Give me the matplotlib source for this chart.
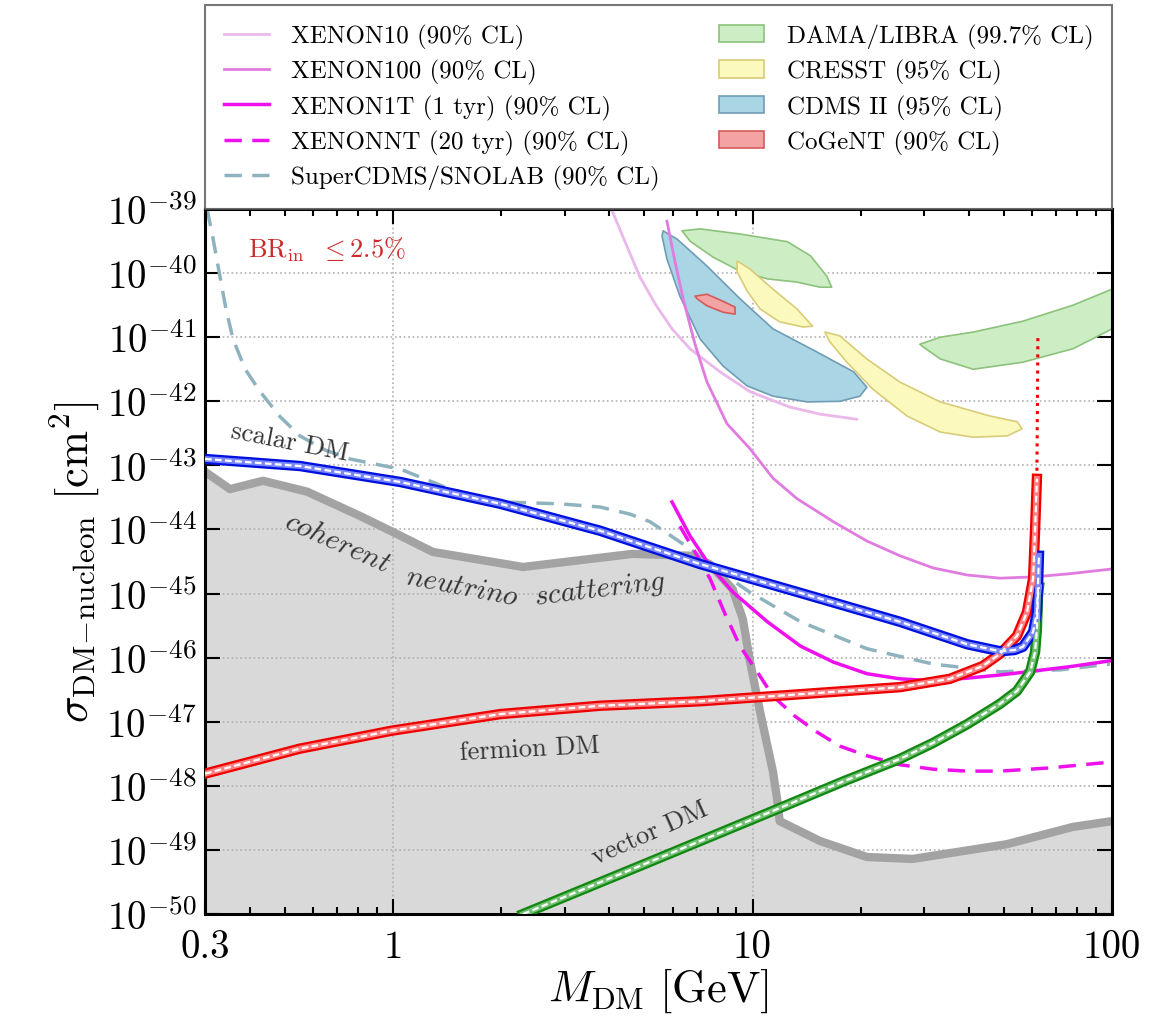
import numpy as np
import matplotlib
matplotlib.use("Agg")
import matplotlib.pyplot as plt
from matplotlib.patches import Polygon, Patch
from matplotlib.lines import Line2D
from matplotlib.ticker import FixedLocator, FixedFormatter, FuncFormatter, NullFormatter, LogLocator

plt.rcParams['font.family'] = ['cmr10', 'DejaVu Serif']
plt.rcParams['mathtext.fontset'] = 'cm'
plt.rcParams['axes.unicode_minus'] = False

# masses in GeV, cross sections as log10(sigma / cm^2)
nu_floor_m = [0.30, 0.352, 0.435, 0.577, 0.81, 1.0, 1.29, 2.30, 4.65, 6.7, 7.6, 8.8, 9.4, 9.85,
              10.5, 11.4, 11.7, 11.9, 15.4, 20.8, 27.9, 51.0, 77.9, 100.0]
nu_floor_s = [-43.10, -43.37, -43.24, -43.41, -43.79, -44.04, -44.35, -44.585, -44.38, -44.41, -44.54,
              -44.93, -45.40, -46.07, -46.85, -47.78, -48.20, -48.55, -48.86, -49.11, -49.14, -48.91,
              -48.64, -48.55]

scalar_m = [0.30, 0.551, 1.05, 1.99, 3.77, 7.15, 13.6, 25.7, 39.5, 48.8, 53.6, 56.5, 60.3, 61.8,
            62.2, 62.6]
scalar_s = [-42.90, -43.01, -43.26, -43.60, -44.02, -44.54, -44.99, -45.44, -45.79, -45.90, -45.88,
            -45.83, -45.60, -45.29, -44.93, -44.41]

fermion_m = [0.30, 0.55, 0.99, 1.99, 3.77, 7.15, 13.6, 25.7, 35.4, 43.7, 48.8, 54.4, 58.0, 60.3,
             61.1, 61.8]
fermion_s = [-47.81, -47.42, -47.14, -46.88, -46.75, -46.68, -46.57, -46.46, -46.33, -46.13, -45.94,
             -45.66, -45.29, -44.77, -43.99, -43.21]
fermion_top_m = [61.8, 62.2]
fermion_top_s = [-43.21, -40.95]

vector_m = [2.30, 4.86, 11.4, 17.9, 25.7, 31.8, 39.5, 48.8, 54.4, 59.2, 61.1, 61.8, 62.2, 62.6]
vector_s = [-50.0, -49.25, -48.39, -47.93, -47.58, -47.33, -47.04, -46.72, -46.52, -46.22, -45.91,
            -45.55, -45.04, -44.90]

xenon10_m = [4.07, 4.45, 4.86, 5.36, 5.97, 6.70, 8.12, 9.84, 12.7, 15.4, 19.5]
xenon10_s = [-39.03, -39.55, -40.06, -40.48, -40.87, -41.18, -41.54, -41.85, -42.09, -42.20, -42.28]

xenon100_m = [5.78, 6.08, 6.41, 6.92, 7.47, 8.49, 9.84, 11.4, 13.3, 16.8, 20.8, 25.7, 31.8, 39.5,
              48.8, 60.3, 76.4, 98.6]
xenon100_s = [-39.19, -39.81, -40.40, -41.11, -41.70, -42.35, -42.74, -43.20, -43.52, -43.88, -44.18,
              -44.41, -44.60, -44.71, -44.76, -44.74, -44.69, -44.62]

xenon1t_m = [5.97, 6.70, 7.62, 8.83, 11.0, 13.6, 16.8, 20.8, 25.7, 31.8, 39.5, 48.8, 60.3, 76.4, 98.6]
xenon1t_s = [-43.57, -44.10, -44.57, -44.98, -45.44, -45.82, -46.07, -46.25, -46.33, -46.36, -46.32,
             -46.27, -46.21, -46.14, -46.05]

xenonnt_m = [6.28, 6.92, 7.62, 8.39, 9.23, 10.3, 11.4, 13.1, 15.1, 17.5, 20.8, 25.7, 31.8, 39.5, 48.8,
             67.1, 98.6]
xenonnt_s = [-43.95, -44.35, -44.77, -45.32, -45.82, -46.22, -46.60, -46.91, -47.16, -47.38, -47.53,
             -47.67, -47.74, -47.77, -47.77, -47.72, -47.63]

supercdms_m = [0.304, 0.316, 0.330, 0.343, 0.359, 0.388, 0.427, 0.485, 0.551, 0.647, 0.759, 1.05, 1.44,
               1.99, 2.92, 3.77, 4.56, 5.19, 6.70, 8.12, 9.84, 13.6, 20.8, 31.8, 48.8, 71.6, 98.6]
supercdms_s = [-39.0, -39.47, -40.05, -40.56, -41.03, -41.50, -41.85, -42.24, -42.54, -42.76, -42.90,
               -43.06, -43.37, -43.57, -43.60, -43.65, -43.76, -43.88, -44.30, -44.66, -44.98, -45.44,
               -45.86, -46.10, -46.22, -46.19, -46.10]

dama_low_m = [6.37, 7.15, 9.23, 12.5, 14.5, 16.1, 16.6, 15.4, 13.3, 11.0, 9.23, 7.76, 6.7]
dama_low_s = [-39.34, -39.31, -39.39, -39.51, -39.73, -40.05, -40.22, -40.22, -40.14, -40.09,
              -39.97, -39.75, -39.50]
dama_high_m = [29.2, 33.3, 41.1, 56.5, 77.9, 100.0, 100.0, 77.9, 56.5, 41.1, 33.3, 29.8]
dama_high_s = [-41.11, -41.00, -40.92, -40.75, -40.50, -40.25, -40.87, -41.18, -41.39, -41.50,
               -41.34, -41.15]
cresst_low_m = [9.06, 9.85, 11.4, 13.3, 14.7, 13.8, 11.9, 10.5, 9.66, 9.06]
cresst_low_s = [-39.81, -39.94, -40.25, -40.56, -40.83, -40.84, -40.76, -40.56, -40.28, -39.98]
cresst_high_m = [15.9, 17.5, 20.8, 25.7, 33.3, 45.8, 54.5, 56.2, 51.1, 41.1, 33.3, 26.9, 21.6, 18.3, 16.4]
cresst_high_s = [-40.92, -40.98, -41.34, -41.70, -42.01, -42.23, -42.32, -42.43, -42.54, -42.56,
                 -42.48, -42.23, -41.81, -41.39, -41.07]
cdms_m = [5.64, 6.17, 7.47, 9.23, 11.4, 15.1, 19.1, 20.8, 19.9, 17.5, 14.2, 11.4, 9.66, 8.28, 7.15,
          6.28, 5.78, 5.6]
cdms_s = [-39.34, -39.47, -39.89, -40.40, -40.87, -41.23, -41.54, -41.78, -41.92, -42.00, -42.01,
          -41.92, -41.76, -41.45, -41.03, -40.36, -39.78, -39.42]
cogent_m = [6.92, 7.47, 8.28, 8.94, 8.94, 8.28, 7.47, 7.01]
cogent_s = [-40.36, -40.33, -40.44, -40.53, -40.64, -40.61, -40.51, -40.40]

x_ticks = [0.3, 1, 10, 100]
x_tick_labels = ['0.3', '1', '10', '100']

fig = plt.figure(figsize=(11.67, 10.2), dpi=100)
ax = fig.add_axes([0.1757, 0.1029, 0.7772, 0.6912])
ax.set_xscale('log')
ax.set_yscale('log')
ax.set_xlim(0.3, 100)
ax.set_ylim(1e-50, 1e-39)
ax.set_axisbelow(True)


def pw(s):
    return 10.0 ** np.array(s)


# neutrino floor
ax.fill_between(nu_floor_m, pw(nu_floor_s), 1e-52, color='#d9d9d9', lw=0, zorder=0.2)
ax.plot(nu_floor_m, pw(nu_floor_s), color='#a3a3a3', lw=6, zorder=1, solid_joinstyle='round')

# experimental regions
regions = [
    (dama_low_m, dama_low_s, '#cdeec4', '#8cc27c'),
    (dama_high_m, dama_high_s, '#cdeec4', '#8cc27c'),
    (cresst_low_m, cresst_low_s, '#fbf9bd', '#d8cc78'),
    (cresst_high_m, cresst_high_s, '#fbf9bd', '#d8cc78'),
    (cdms_m, cdms_s, '#a9d5e5', '#6f9db4'),
    (cogent_m, cogent_s, '#f3a3a3', '#d55a5a'),
]
for m, s, fc, ec in regions:
    ax.add_patch(Polygon(np.column_stack([m, pw(s)]), closed=True, facecolor=fc,
                         edgecolor=ec, lw=1.2, zorder=1.2, joinstyle='round'))

# experimental limits
ax.plot(xenon10_m, pw(xenon10_s), color='#eab8ea', lw=2, zorder=2)
ax.plot(xenon100_m, pw(xenon100_s), color='#e07be0', lw=2, zorder=2)
ax.plot(supercdms_m, pw(supercdms_s), color='#8fb2bf', lw=2.5, dashes=(5, 3), zorder=2)
ax.plot(xenon1t_m, pw(xenon1t_s), color='#ee11ee', lw=2.5, zorder=2.1)
ax.plot(xenonnt_m, pw(xenonnt_s), color='#ee11ee', lw=2.5, dashes=(5, 3), zorder=2.1)


def band(m, s, dark, light):
    y = pw(s)
    ax.plot(m, y, color=dark, lw=7.5, zorder=3, solid_joinstyle='round')
    ax.plot(m, y, color=light, lw=4.2, zorder=3.1, solid_joinstyle='round')
    ax.plot(m, y, color='white', lw=1.6, dashes=(3, 1.5), zorder=3.2)


ax.plot(fermion_top_m, pw(fermion_top_s), color='#ee0000', lw=2.2, ls=':', zorder=3)
band(vector_m, vector_s, '#118811', '#74c074')
band(fermion_m, fermion_s, '#ee0000', '#ff8080')
band(scalar_m, scalar_s, '#0010dd', '#7886ff')

# annotations
ax.text(0.395, 10 ** -39.62, r'$\mathrm{BR}_{\mathrm{in}}\ \ \leq 2.5\%$', color='#cc2a2a',
        fontsize=19, ha='left', va='center')
ax.text(0.516, 10 ** -42.63, 'scalar DM', fontsize=19, rotation=-11, color='#333333',
        ha='center', va='center')
ax.text(0.70, 10 ** -44.20, r'$coherent$', fontsize=21, rotation=-24, color='#333333',
        ha='center', va='center')
ax.text(1.56, 10 ** -44.90, r'$neutrino$', fontsize=21, rotation=-11, color='#333333',
        ha='center', va='center')
ax.text(3.77, 10 ** -44.93, r'$scattering$', fontsize=21, rotation=7, color='#333333',
        ha='center', va='center')
ax.text(2.40, 10 ** -47.42, 'fermion DM', fontsize=19, rotation=3, color='#333333',
        ha='center', va='center')
ax.text(5.19, 10 ** -48.72, 'vector DM', fontsize=19, rotation=24, color='#333333',
        ha='center', va='center')

# axes styling
ax.xaxis.set_major_locator(FixedLocator(x_ticks))
ax.xaxis.set_major_formatter(FixedFormatter(x_tick_labels))
ax.xaxis.set_minor_locator(LogLocator(base=10, subs=np.arange(2, 10)))
ax.xaxis.set_minor_formatter(NullFormatter())
ax.yaxis.set_major_locator(LogLocator(base=10, numticks=20))
ax.yaxis.set_minor_locator(FixedLocator([]))
ax.yaxis.set_major_formatter(FuncFormatter(lambda v, p: r'$10^{%d}$' % round(np.log10(v))))
ax.tick_params(which='both', direction='in', top=True, right=True, width=1.5, labelsize=28)
ax.tick_params(which='major', length=11)
ax.tick_params(which='minor', length=5)
ax.tick_params(axis='x', pad=11)
ax.tick_params(axis='y', pad=6)
for sp in ax.spines.values():
    sp.set_linewidth(2.2)
ax.grid(True, which='major', ls=':', color='#b0b0b0', lw=1.2)

ax.set_xlabel(r'$M_{\rm DM}\ [\rm GeV]$', fontsize=32, labelpad=0)
ax.set_ylabel(r'$\sigma_{\rm DM\!-\!nucleon}\ [\rm cm^2]$', fontsize=32, labelpad=4)

handles = [
    Line2D([], [], color='#eab8ea', lw=2),
    Line2D([], [], color='#e07be0', lw=2),
    Line2D([], [], color='#ee11ee', lw=2.5),
    Line2D([], [], color='#ee11ee', lw=2.5, dashes=(5, 3)),
    Line2D([], [], color='#8fb2bf', lw=2.5, dashes=(5, 3)),
    Patch(facecolor='#cdeec4', edgecolor='#8cc27c', lw=1.2),
    Patch(facecolor='#fbf9bd', edgecolor='#d8cc78', lw=1.2),
    Patch(facecolor='#a9d5e5', edgecolor='#6f9db4', lw=1.2),
    Patch(facecolor='#f3a3a3', edgecolor='#d55a5a', lw=1.2),
]
labels = ['XENON10 (90% CL)', 'XENON100 (90% CL)', 'XENON1T (1 tyr) (90% CL)',
          'XENONNT (20 tyr) (90% CL)', 'SuperCDMS/SNOLAB (90% CL)',
          'DAMA/LIBRA (99.7% CL)', 'CRESST (95% CL)', 'CDMS II (95% CL)', 'CoGeNT (90% CL)']
leg = ax.legend(handles, labels, loc='lower left', bbox_to_anchor=(0, 1.0, 1.0, 0.2),
                mode='expand', ncol=2, borderaxespad=0, fontsize=18, frameon=True,
                fancybox=False, edgecolor='#555555', handlelength=1.8, handletextpad=0.9,
                labelspacing=0.41, borderpad=0.75)
leg.get_frame().set_linewidth(1.5)

fig.savefig('out.png', dpi=100)
